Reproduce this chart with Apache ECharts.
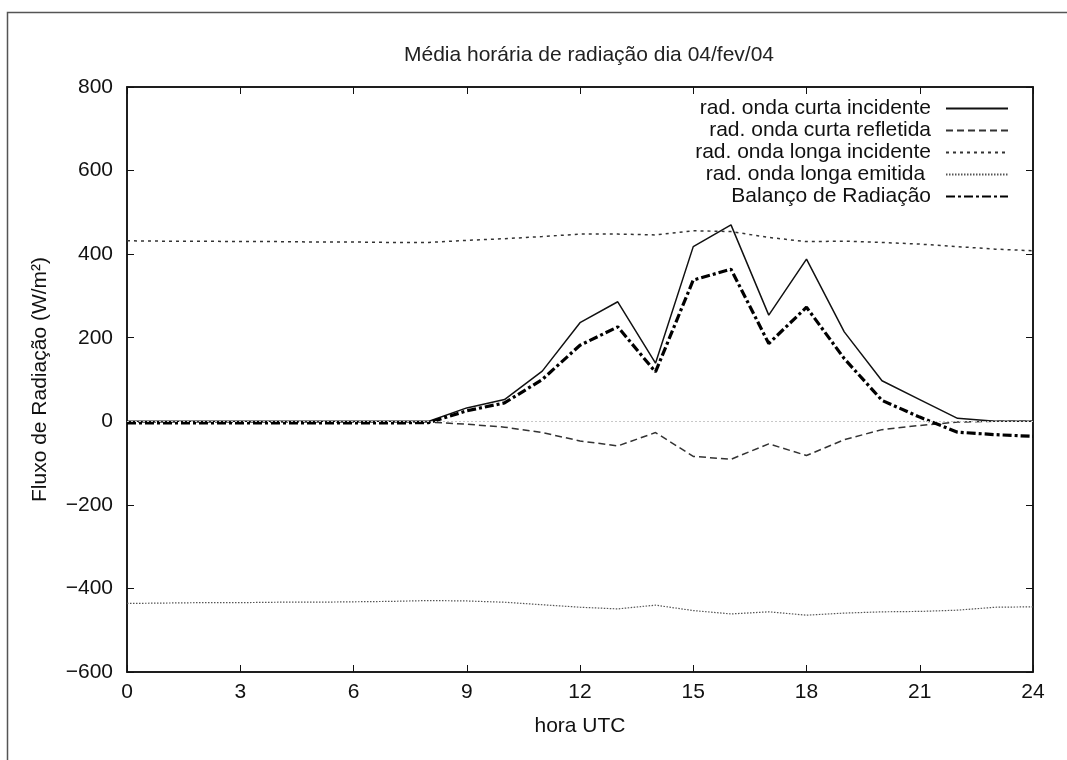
<!DOCTYPE html>
<html>
<head>
<meta charset="utf-8">
<script src="https://cdn.jsdelivr.net/npm/echarts@6/dist/echarts.min.js"></script>
<style>
  html, body { margin: 0; padding: 0; background: #fff; }
  #chart { width: 1067px; height: 760px; }
</style>
</head>
<body>
<div id="chart"></div>
<script>
  // horas (UTC) e médias horárias
  var horas = [0, 1, 2, 3, 4, 5, 6, 7, 8, 9, 10, 11, 12, 13, 14, 15, 16, 17, 18, 19, 20, 21, 22, 23, 24];
  var ocIncidente = [0, 0, 0, 0, 0, 0, 0, 0, 0, 32, 52, 120, 236, 286, 139, 418, 470, 254, 388, 214, 97, 52, 7, 0, 0];
  var ocRefletida = [-2, -2, -2, -2, -2, -2, -2, -2, -2, -7, -14, -27, -47, -59, -27, -84, -91, -54, -82, -44, -20, -10, -2, 0, 0];
  var olIncidente = [432, 431, 431, 430, 430, 429, 429, 428, 428, 433, 437, 442, 448, 448, 446, 456, 454, 440, 430, 431, 428, 424, 418, 412, 408];
  var olEmitida = [-436, -435, -434, -434, -433, -433, -432, -431, -429, -430, -433, -439, -445, -449, -440, -453, -461, -456, -464, -459, -456, -455, -452, -445, -444];
  var balanco = [-4, -4, -4, -4, -4, -4, -4, -4, -3, 25, 44, 100, 182, 226, 118, 338, 364, 186, 273, 150, 50, 10, -26, -32, -36];

  var nomes = ['rad. onda curta incidente', 'rad. onda curta refletida', 'rad. onda longa incidente', 'rad. onda longa emitida ', 'Balanço de Radiação'];

  function pares(v) {
    return horas.map(function (h, i) { return [h, v[i]]; });
  }

  var fonte = 'Liberation Sans, Arial, sans-serif';
  var myChart = echarts.init(document.getElementById('chart'));

  // eixos espelhados (gnuplot): ticks para dentro nos quatro lados
  var linhaEixo = { show: true, onZero: false, lineStyle: { color: '#111', width: 1.5 } };
  var tick = { inside: true, length: 7, lineStyle: { color: '#111' } };

  var option = {
    backgroundColor: '#fff',
    animation: false,
    textStyle: { fontFamily: fonte },
    title: {
      text: 'Média horária de radiação dia 04/fev/04',
      left: 584, top: 40, textAlign: 'center',
      textStyle: { fontSize: 21, fontWeight: 'normal', color: '#222', fontFamily: fonte }
    },
    graphic: [{
      type: 'rect', silent: true,
      shape: { x: 7.5, y: 12.5, width: 1100, height: 800 },
      style: { fill: 'none', stroke: '#555', lineWidth: 1.5 }
    }],
    legend: {
      orient: 'vertical', align: 'right',
      right: 53, top: 93,
      itemWidth: 62, itemHeight: 14, itemGap: 1,
      itemStyle: { opacity: 0 },
      textStyle: { fontSize: 21, color: '#111', fontFamily: fonte, padding: [0, 10, 0, 0] },
      data: nomes
    },
    grid: {
      left: 127, right: 34, top: 87, bottom: 88,
      show: true, borderColor: '#111', borderWidth: 1.5
    },
    xAxis: [{
      type: 'value', min: 0, max: 24, interval: 3,
      name: 'hora UTC', nameLocation: 'middle', nameGap: 44,
      nameTextStyle: { fontSize: 21, color: '#111', fontFamily: fonte },
      axisLine: linhaEixo, axisTick: tick,
      axisLabel: { fontSize: 21, color: '#111', margin: 10, fontFamily: fonte },
      splitLine: { show: false }
    }, {
      type: 'value', min: 0, max: 24, interval: 3, position: 'top',
      axisLine: linhaEixo, axisTick: tick,
      axisLabel: { show: false }, splitLine: { show: false }
    }],
    yAxis: [{
      type: 'value', min: -600, max: 800, interval: 200,
      name: 'Fluxo de Radiação (W/m²)', nameLocation: 'middle', nameGap: 76, nameRotate: 90,
      nameTextStyle: { fontSize: 21, color: '#111', fontFamily: fonte },
      axisLine: linhaEixo, axisTick: tick,
      axisLabel: {
        fontSize: 21, color: '#111', margin: 14, fontFamily: fonte,
        formatter: function (v) { return String(v).replace('-', '\u2212'); }
      },
      splitLine: { show: false }
    }, {
      type: 'value', min: -600, max: 800, interval: 200, position: 'right',
      axisLine: linhaEixo, axisTick: tick,
      axisLabel: { show: false }, splitLine: { show: false }
    }],
    series: [
      {
        name: nomes[0], type: 'line', data: pares(ocIncidente), symbol: 'none',
        itemStyle: { color: '#111' },
        lineStyle: { color: '#111', width: 1.5, type: 'solid' },
        markLine: {
          silent: true, symbol: 'none', label: { show: false },
          lineStyle: { color: '#c8c8c8', width: 1, type: [2, 2] },
          data: [{ yAxis: 0 }]
        }
      },
      {
        name: nomes[1], type: 'line', data: pares(ocRefletida), symbol: 'none',
        itemStyle: { color: '#333' },
        lineStyle: { color: '#333', width: 1.5, type: [7, 4] }
      },
      {
        name: nomes[2], type: 'line', data: pares(olIncidente), symbol: 'none',
        itemStyle: { color: '#333' },
        lineStyle: { color: '#333', width: 1.5, type: [3, 4] }
      },
      {
        name: nomes[3], type: 'line', data: pares(olEmitida), symbol: 'none',
        itemStyle: { color: '#555' },
        lineStyle: { color: '#555', width: 1.2, type: [1.5, 1.5] }
      },
      {
        name: nomes[4], type: 'line', data: pares(balanco), symbol: 'none',
        itemStyle: { color: '#000' },
        lineStyle: { color: '#000', width: 3.2, type: [9, 3, 3, 3] }
      }
    ]
  };

  myChart.setOption(option);
</script>
</body>
</html>
